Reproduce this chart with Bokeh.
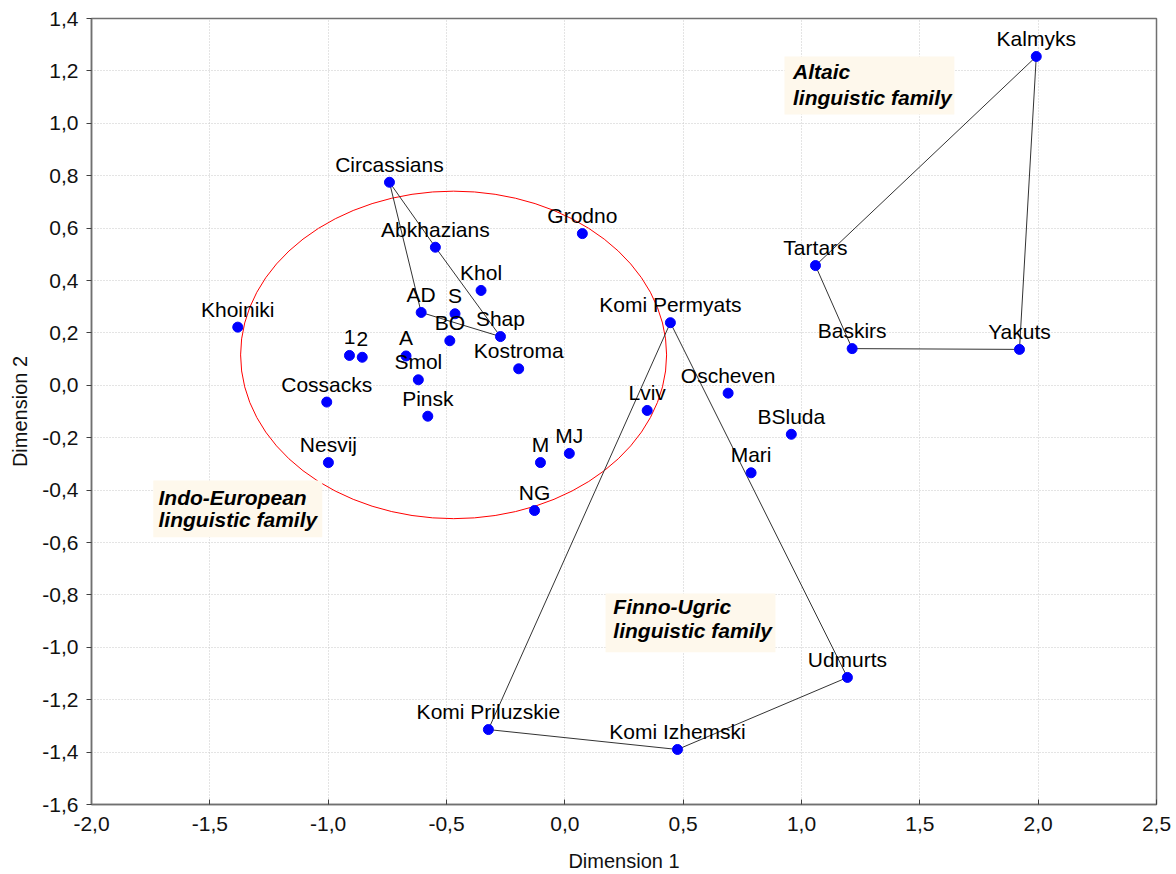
from bokeh.plotting import figure
from bokeh.models import (FixedTicker, CustomJSTickFormatter, BoxAnnotation, Label,
                          ColumnDataSource)
from bokeh.core.properties import value
from bokeh.embed import file_html
from bokeh.resources import INLINE

# ---- data ----
names = ["Circassians", "Abkhazians", "Khol", "AD", "S", "BO", "Shap", "Kostroma",
         "1", "2", "A", "Smol", "Pinsk", "Cossacks", "Khoiniki", "Nesvij", "Grodno",
         "M", "MJ", "NG", "Komi Permyats", "Lviv", "Oscheven", "BSluda", "Mari",
         "Baskirs", "Tartars", "Kalmyks", "Yakuts", "Udmurts", "Komi Izhemski",
         "Komi Priluzskie"]
dim1 = [-0.741, -0.547, -0.354, -0.607, -0.464, -0.486, -0.272, -0.195,
        -0.910, -0.856, -0.671, -0.619, -0.579, -1.006, -1.382, -0.999, 0.074,
        -0.103, 0.019, -0.128, 0.446, 0.348, 0.690, 0.957, 0.787,
        1.214, 1.059, 1.992, 1.921, 1.194, 0.476, -0.323]
dim2 = [0.775, 0.527, 0.362, 0.278, 0.273, 0.170, 0.186, 0.063,
        0.114, 0.107, 0.112, 0.021, -0.118, -0.064, 0.222, -0.295, 0.579,
        -0.295, -0.260, -0.478, 0.239, -0.096, -0.030, -0.187, -0.334,
        0.140, 0.457, 1.255, 0.137, -1.115, -1.390, -1.314]

group_caucasian = ["Circassians", "Abkhazians", "Shap", "AD"]
group_finno_ugric = ["Komi Permyats", "Udmurts", "Komi Izhemski", "Komi Priluzskie"]
group_altaic = ["Kalmyks", "Yakuts", "Baskirs", "Tartars"]

ellipse_center = (-0.47, 0.116)
ellipse_size = (1.80, 1.25)

x_ticks = [-2.0, -1.5, -1.0, -0.5, 0.0, 0.5, 1.0, 1.5, 2.0, 2.5]
y_ticks = [-1.6, -1.4, -1.2, -1.0, -0.8, -0.6, -0.4, -0.2, 0.0, 0.2, 0.4, 0.6, 0.8, 1.0, 1.2, 1.4]

FONT = "Liberation Sans"

p = figure(frame_width=1065, frame_height=786, x_range=(-2.0, 2.5), y_range=(-1.6, 1.4),
           output_backend="svg", toolbar_location=None,
           min_border_left=91, min_border_right=20, min_border_top=18, min_border_bottom=70)
p.background_fill_color = "white"
p.border_fill_color = "white"
p.outline_line_color = "#707070"
p.outline_line_width = 1.5

fmt = CustomJSTickFormatter(code="return tick.toFixed(1).replace('.', ',');")
p.xaxis.ticker = FixedTicker(ticks=x_ticks)
p.yaxis.ticker = FixedTicker(ticks=y_ticks)
p.xaxis.formatter = fmt
p.yaxis.formatter = fmt
for ax in (p.xaxis[0], p.yaxis[0]):
    ax.axis_line_color = "#707070"
    ax.axis_line_width = 1.5
    ax.major_tick_line_color = "#404040"
    ax.minor_tick_line_color = None
    ax.major_label_text_font = FONT
    ax.major_label_text_font_size = "21px"
    ax.major_label_text_color = "#111111"
    ax.axis_label_text_font = FONT
    ax.axis_label_text_font_size = "20px"
    ax.axis_label_text_font_style = "normal"
    ax.axis_label_text_color = "#111111"
p.xaxis.major_tick_in = 5
p.xaxis.major_tick_out = 0
p.yaxis.major_tick_in = 0
p.yaxis.major_tick_out = 5
p.xaxis.axis_label = "Dimension 1"
p.yaxis.axis_label = "Dimension 2"
p.xaxis.major_label_standoff = 12
p.yaxis.major_label_standoff = 8
p.xaxis.axis_label_standoff = 16
p.yaxis.axis_label_standoff = 8

p.grid.grid_line_color = "#c8c8c8"
p.grid.grid_line_dash = "1 2"
p.grid.grid_line_width = 1

# ellipse
p.ellipse(x=[ellipse_center[0]], y=[ellipse_center[1]], width=[ellipse_size[0]],
          height=[ellipse_size[1]], fill_color=None, line_color="red", line_width=1)

# polygons
idx = {n: i for i, n in enumerate(names)}
xs, ys = [], []
for g in (group_caucasian, group_finno_ugric, group_altaic):
    xs.append([dim1[idx[n]] for n in g] + [dim1[idx[g[0]]]])
    ys.append([dim2[idx[n]] for n in g] + [dim2[idx[g[0]]]])
p.multi_line(xs=xs, ys=ys, line_color="#333333", line_width=1)

src = ColumnDataSource(dict(x=dim1, y=dim2, name=names))
p.scatter("x", "y", source=src, size=10, fill_color="#0000ff", line_color="#0000ff")
p.text("x", "y", text="name", source=src, text_align="center", text_baseline="alphabetic",
       y_offset=-18, text_font=value(FONT), text_font_size="21px", text_color="#000000")

# annotation boxes
boxes = [
    (0.928, 1.646, 1.255, 1.034, 0.964, ["Altaic", "linguistic family"], [1.196, 1.100]),
    (-1.739, -1.025, -0.363, -0.580, -1.717, ["Indo-European", "linguistic family"], [-0.428, -0.512]),
    (0.172, 0.890, -0.795, -1.019, 0.205, ["Finno-Ugric", "linguistic family"], [-0.845, -0.937]),
]
for l, r, t, b, tx, lines, tys in boxes:
    p.add_layout(BoxAnnotation(left=l, right=r, top=t, bottom=b, fill_color="#fef8ec",
                               fill_alpha=1.0, line_color=None, level="annotation"))
    for txt, ty in zip(lines, tys):
        p.add_layout(Label(x=tx, y=ty, text=txt, text_font=FONT, text_font_size="21px",
                           text_font_style="bold italic", text_color="#000000",
                           text_baseline="alphabetic", text_align="left"))

open("out.html", "w").write(file_html(p, INLINE))
